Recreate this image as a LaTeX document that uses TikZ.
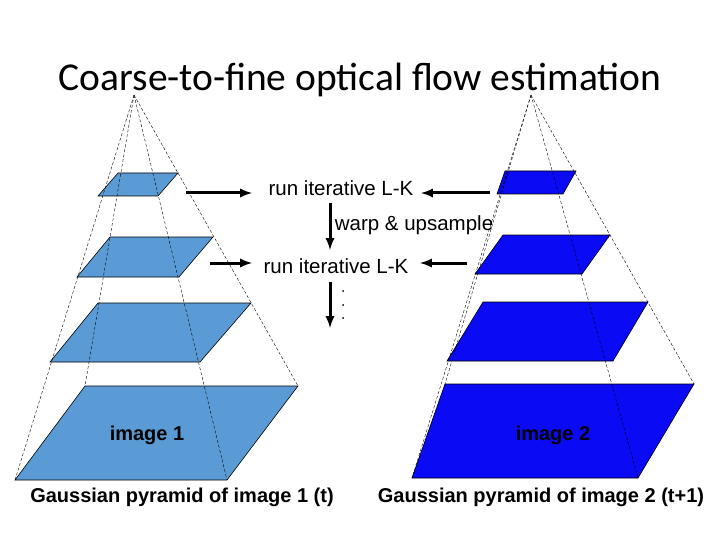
\documentclass[tikz,border=0pt]{standalone}
\usepackage{fontspec}
\setmainfont{Liberation Sans}
\newfontfamily\titlefont{Carlito}
\definecolor{lightpyr}{RGB}{91,155,213}
\definecolor{darkpyr}{RGB}{10,10,245}
\tikzset{
  level/.style = {draw=black, line width=0.6pt},
  ray/.style = {dashed, dash pattern=on 3pt off 2pt, line width=0.4pt},
  flow/.style = {-latex, line width=3pt},
  lbl/.style = {font=\fontsize{20.5}{24}\selectfont, inner sep=1pt},
  bold/.style = {lbl, font=\bfseries\fontsize{20}{24}\selectfont}
}
\begin{document}
\begin{tikzpicture}[x=1pt,y=-1pt]
	\useasboundingbox (0,0) rectangle (720,540);

	% Title
	\node[font=\titlefont\fontsize{39.5}{44}\selectfont] (title) at (360,80) {Coarse-to-fine optical flow estimation};

	% Apexes
	\coordinate (apexL) at (134,95);
	\coordinate (apexR) at (531,95);

	% Left pyramid levels
	\fill[lightpyr, level] (118,173) -- (178,173) -- (158,196) -- (98,196) -- cycle;
	\fill[lightpyr, level] (110,237) -- (213,237) -- (179,277) -- (77,277) -- cycle;
	\fill[lightpyr, level] (98,303) -- (251,303) -- (200,362) -- (50,362) -- cycle;
	\fill[lightpyr, level] (85,386) -- (298,386) -- (227,480) -- (15,480) -- cycle;

	% Right pyramid levels
	\fill[darkpyr, level] (505,171) -- (576,171) -- (563,194) -- (497,194) -- cycle;
	\fill[darkpyr, level] (503,235) -- (610,235) -- (582,274) -- (475,274) -- cycle;
	\fill[darkpyr, level] (483,302) -- (648,302) -- (613,361) -- (447,361) -- cycle;
	\fill[darkpyr, level] (445,384) -- (694,384) -- (638,478) -- (412,478) -- cycle;

	% Rays
	\foreach \c in {(15,480),(85,386),(227,480),(298,386)}
		\draw[ray] (apexL) -- \c;
	\foreach \c in {(412,478),(445,384),(638,478),(694,384)}
		\draw[ray] (apexR) -- \c;

	% Flow steps
	\node[lbl] (lk1) at (341,188) {run iterative L-K};
	\node[lbl] (warp) at (414,225) {warp \& upsample};
	\node[lbl] (lk2) at (336,266) {run iterative L-K};
	\coordinate (from1L) at (186,193);
	\coordinate (from1R) at (490,193);
	\coordinate (from2L) at (210,263);
	\coordinate (from2R) at (467,263);
	\coordinate (down) at (330,328);
	\draw[flow] (from1L) -- (252,193);
	\draw[flow] (from1R) -- (421,193);
	\draw[flow] (330,203) -- (330,250);
	\draw[flow] (from2L) -- (252,263);
	\draw[flow] (from2R) -- (420,263);
	\draw[flow] (330,282) -- (down);
	\foreach \y in {291,305,318}
		\fill (343,\y) circle (1pt);

	% Labels
	\node[bold] (img1) at (147,435) {image 1};
	\node[bold] (img2) at (553,435) {image 2};
	\node[bold] (cap1) at (182,497) {Gaussian pyramid of image 1 (t)};
	\node[bold] (cap2) at (541,497) {Gaussian pyramid of image 2 (t+1)};
\end{tikzpicture}
\end{document}
